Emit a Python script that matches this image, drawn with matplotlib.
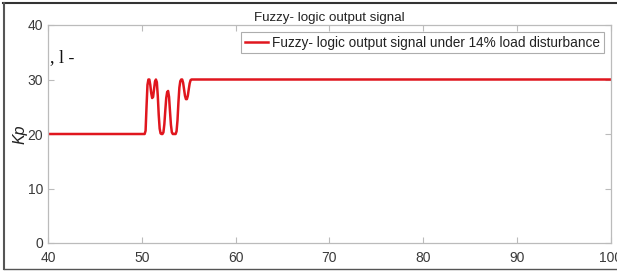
import matplotlib
matplotlib.use("Agg")
import matplotlib.pyplot as plt
from matplotlib.lines import Line2D

plt.rcParams['font.family'] = ['Liberation Sans', 'DejaVu Sans']

# Time (s) and Kp values
t = [40.0, 50.3, 50.4, 50.5, 50.6, 50.7, 50.8, 50.9, 51.0, 51.1, 51.2, 51.3, 51.4,
     51.5, 51.6, 51.7, 51.8, 51.9, 52.0, 52.1, 52.2, 52.3, 52.4, 52.5, 52.6,
     52.7, 52.8, 52.9, 53.0, 53.1, 53.2, 53.3, 53.4, 53.5, 53.6, 53.7, 53.8,
     53.9, 54.0, 54.1, 54.2, 54.3, 54.4, 54.5, 54.6, 54.7, 54.8, 54.9, 55.0,
     55.1, 55.2, 55.3, 100.0]
kp = [20.0, 20.0, 20.6, 25.0, 29.0, 30.0, 30.0, 29.0, 27.5, 26.6, 26.8, 28.2, 29.6,
      30.0, 29.5, 27.0, 23.5, 21.0, 20.1, 20.0, 20.0, 20.3, 21.8, 24.3, 26.6,
      27.7, 27.9, 26.8, 24.2, 21.7, 20.3, 20.0, 20.0, 20.0, 20.0, 20.5, 22.5,
      25.8, 28.5, 29.7, 30.0, 30.0, 29.4, 28.2, 27.0, 26.4, 26.4, 27.0, 28.2,
      29.3, 29.9, 30.0, 30.0]

x_ticks = [40, 50, 60, 70, 80, 90, 100]
y_ticks = [0, 10, 20, 30, 40]
title = "Fuzzy- logic output signal"
series_label = "Fuzzy- logic output signal under 14% load disturbance"

fig = plt.figure(figsize=(6.17, 2.72), dpi=100)
ax = fig.add_axes([48/617, 1-243/272, (611-48)/617, (243-25)/272])

ax.plot(t, kp, color='#e0161e', linewidth=1.8, label=series_label)
ax.set_xlim(40, 100)
ax.set_ylim(0, 40)
ax.set_xticks(x_ticks)
ax.set_yticks(y_ticks)
ax.tick_params(direction='in', top=True, right=True, labelsize=10,
               colors='#bbbbbb', labelcolor='#3a3a3a', length=4)
ax.tick_params(axis='x', pad=6)
ax.tick_params(axis='y', pad=3.5)
for s in ax.spines.values():
    s.set_color('#bbbbbb')
    s.set_linewidth(0.9)

ax.set_title(title, fontsize=9.6, color='#222222', pad=3)
ax.set_ylabel('Kp', fontsize=11.5, style='italic', labelpad=0, color='#222222')

leg = ax.legend(loc='upper right', fontsize=9.8, frameon=True, fancybox=False,
                edgecolor='#999999', borderpad=0.25, handlelength=1.7,
                handletextpad=0.3, borderaxespad=0.55)
leg.get_frame().set_linewidth(0.8)
for txt in leg.get_texts():
    txt.set_color('#222222')

fig.text(50/617, 1-58/272, ', l -', fontsize=13, family='Liberation Serif',
         color='#111111', va='center', ha='left')

# figure frame (top, left, bottom)
fig.add_artist(Line2D([3/617, 1], [1-3/272, 1-3/272], color='#333333', lw=1.5))
fig.add_artist(Line2D([4/617, 4/617], [1-3/272, 1-269/272], color='#555555', lw=1.5))
fig.add_artist(Line2D([4/617, 1], [1-269/272, 1-269/272], color='#555555', lw=1.0))

fig.savefig('out.png', dpi=100)
